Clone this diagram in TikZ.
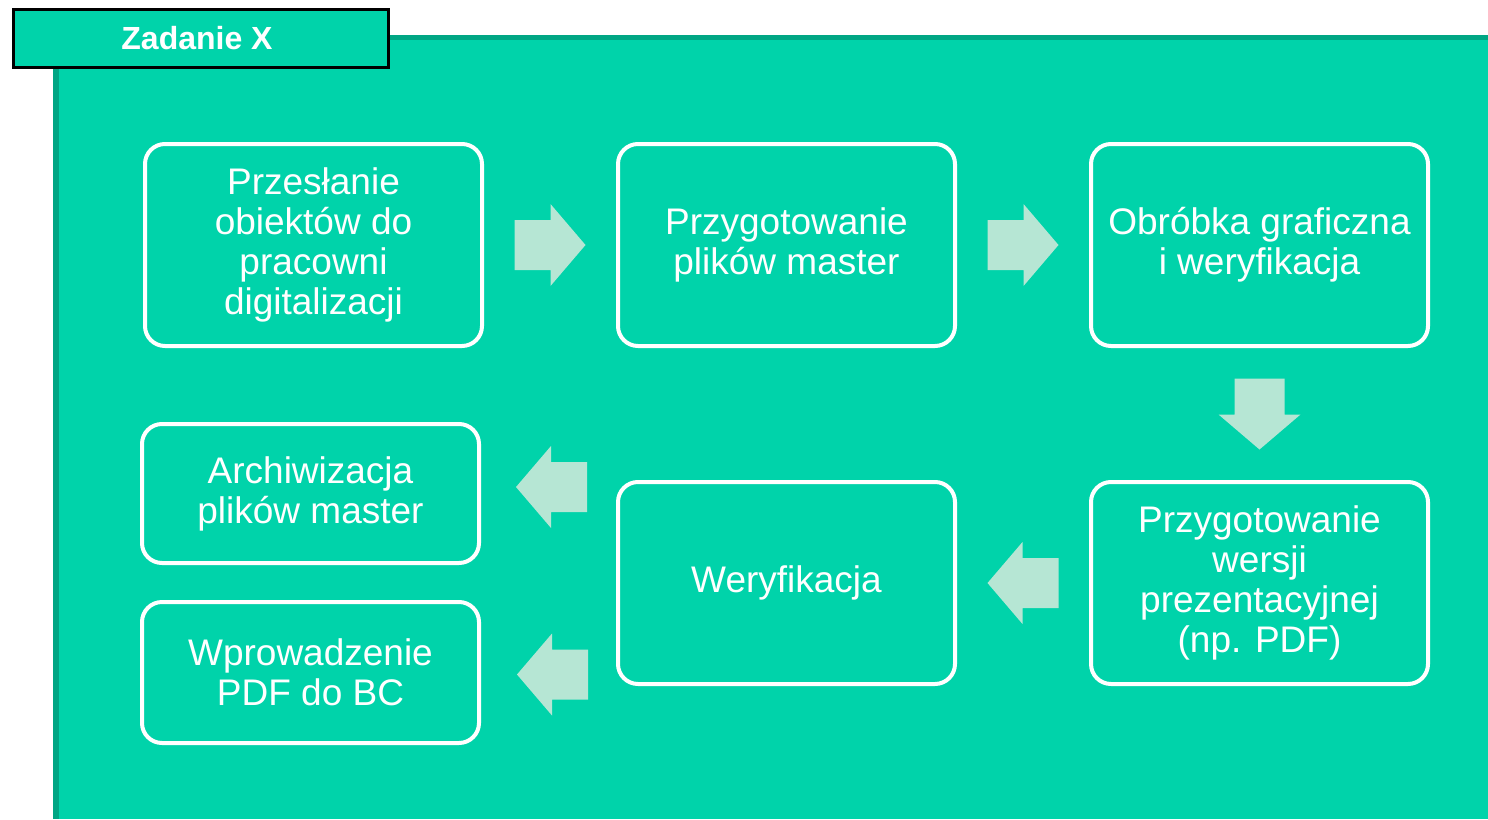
\documentclass[tikz,border=0pt]{standalone}
\usepackage{fontspec}
\setmainfont{Liberation Sans}
\usetikzlibrary{calc}
\definecolor{tlo}{RGB}{0,211,170}
\definecolor{ramka}{RGB}{0,166,132}
\definecolor{strzalka}{RGB}{182,230,212}

\tikzset{
  etap/.style={draw=white, line width=4pt, rounded corners=20pt, text=white, align=center,
    font=\fontsize{37}{40}\selectfont, minimum width=337pt, inner sep=0pt},
  blok/.pic={\fill[strzalka] (-35.5,-25) -- (0.5,-25) -- (0.5,-41) -- (35.5,0) -- (0.5,41) -- (0.5,25) -- (-35.5,25) -- cycle;}
}

\begin{document}
\begin{tikzpicture}[x=1pt,y=-1pt]
	\useasboundingbox (0,0) rectangle (1488,819);
	
	% tlo
	\fill[tlo] (53,35) rectangle (1488,819);
	\fill[ramka] (53,35) rectangle (1488,40);
	\fill[ramka] (53,35) rectangle (59,819);
	
	% naglowek
	\node[draw=black, line width=3pt, fill=tlo, minimum width=375pt, minimum height=58pt, inner sep=0pt,
		text=white, font=\fontsize{32}{36}\selectfont\bfseries] (zadanie) at (201,38.5) {Zadanie X\hspace*{8pt}};
	
	% etapy
	\node[etap, minimum height=202pt] (przeslanie) at (313.5,245) {Przesłanie\\obiektów do\\pracowni\\digitalizacji};
	\node[etap, minimum height=202pt] (master) at (786.5,245) {Przygotowanie\\plików master};
	\node[etap, minimum height=202pt] (obrobka) at (1259.5,245) {Obróbka graficzna\\i weryfikacja};
	\node[etap, minimum height=202pt] (wersja) at (1259.5,583) {Przygotowanie\\wersji\\prezentacyjnej\\(np. PDF)};
	\node[etap, minimum height=202pt] (weryfikacja) at (786.5,583) {Weryfikacja};
	\node[etap, minimum height=139pt] (archiwizacja) at (310.5,493.5) {Archiwizacja\\plików master};
	\node[etap, minimum height=141pt] (wprowadzenie) at (310.5,672.5) {Wprowadzenie\\PDF do BC};
	
	% strzalki
	\pic at ($(przeslanie.east)!0.5!(master.west)$) {blok};
	\pic at ($(master.east)!0.5!(obrobka.west)$) {blok};
	\pic[rotate=-90] at ($(obrobka.south)!0.5!(wersja.north)$) {blok};
	\pic[rotate=180] at ($(wersja.west)!0.5!(weryfikacja.east)$) {blok};
	\pic[rotate=180] at ($(archiwizacja.east)!0.5!(archiwizacja.east -| weryfikacja.west)+(3,-6.5)$) {blok};
	\pic[rotate=180] at ($(wprowadzenie.east)!0.5!(wprowadzenie.east -| weryfikacja.west)+(4,2)$) {blok};
\end{tikzpicture}
\end{document}
